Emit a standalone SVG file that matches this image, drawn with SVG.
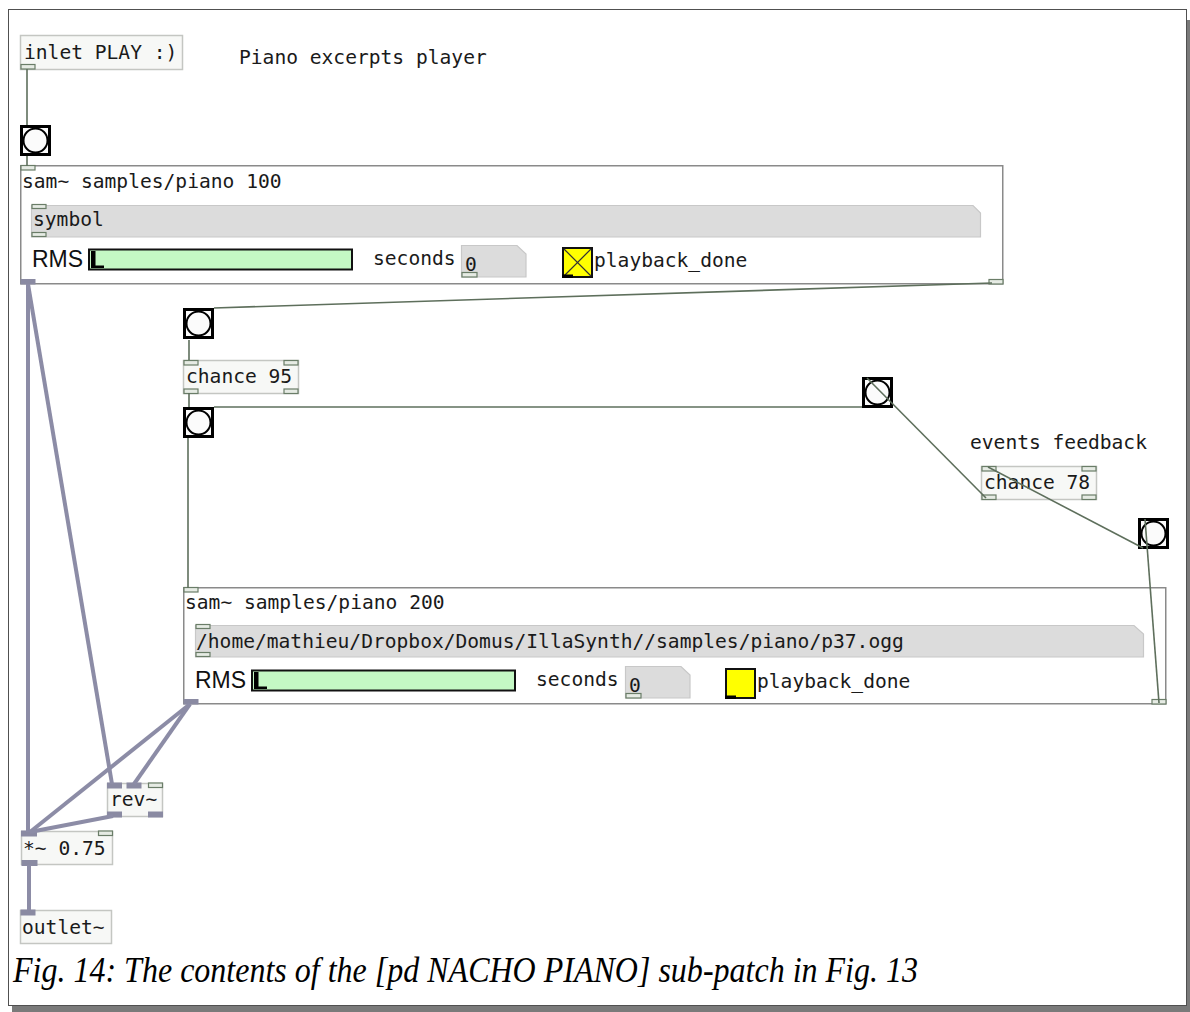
<svg xmlns="http://www.w3.org/2000/svg" xmlns:xlink="http://www.w3.org/1999/xlink" width="1190" height="1012" viewBox="0 0 1190 1012">
  <style>
    .pd { font-family: "DejaVu Sans Mono", "Liberation Mono", monospace; font-size: 19.6px; fill: #1a1a1a; }
    .lbl { font-family: "Liberation Sans", Arial, sans-serif; font-size: 23px; fill: #111; }
    .cap { font-family: "Liberation Serif", "Times New Roman", serif; font-style: italic; font-size: 35px; fill: #000; }
    .obj { fill: #f7f8f6; stroke: #c4c6c2; stroke-width: 1.5; }
    .gop { fill: #ffffff; stroke: #8a8a8a; stroke-width: 1.5; }
    .atom { fill: #dcdcdc; stroke: #c8c8c8; stroke-width: 1.2; }
    .io { fill: #e6ebe4; stroke: #6a7d68; stroke-width: 1.2; }
    .sio { fill: #8a8aa2; stroke: #8a8aa2; stroke-width: 1; }
    .ctl { stroke: #5e6f5c; stroke-width: 1.6; fill: none; }
    .sig { stroke: #8c8ca6; stroke-width: 4; fill: none; }
    .vu { fill: #c4f8c4; stroke: #111; stroke-width: 2; }
    .tgl { fill: #ffff00; stroke: #111; stroke-width: 2; }
  </style>
  <defs>
    <!-- bang button: thick square frame with a circle -->
    <g id="bng">
      <rect x="1.5" y="1.5" width="28" height="28" fill="#fbfbfb" stroke="#000" stroke-width="3"/>
      <circle cx="15.5" cy="15.5" r="12" fill="#fbfbfb" stroke="#000" stroke-width="2"/>
    </g>
  </defs>

  <!-- page frame and shadow -->
  <rect x="0" y="0" width="1190" height="1012" fill="#ffffff"/>
  <rect x="1187" y="20" width="3" height="992" fill="#7a7a7a"/>
  <rect x="12" y="1006" width="1178" height="6" fill="#7a7a7a"/>
  <rect x="8.5" y="9.5" width="1178" height="996" fill="none" stroke="#505050" stroke-width="1"/>

  <!-- comments -->
  <text class="pd" x="239" y="64">Piano excerpts player</text>
  <text class="pd" x="970" y="449">events feedback</text>

  <!-- inlet -->
  <g id="inlet-play">
    <rect class="obj" x="20.5" y="35.5" width="162" height="34"/>
    <text class="pd" x="24" y="59">inlet PLAY :)</text>
    <rect class="io" x="21" y="64.5" width="14" height="4.5"/>
  </g>

  <!-- bang 1 -->
  <g id="bang1"><use xlink:href="#bng" x="20" y="125"/></g>

  <!-- sam~ samples/piano 100 -->
  <g id="sam100">
    <rect class="gop" x="20.75" y="165.75" width="982" height="118"/>
    <rect class="io" x="21" y="165.5" width="14" height="4.5"/>
    <text class="pd" x="22" y="188">sam~ samples/piano 100</text>
    <path class="atom" d="M31.5 205.5 H973 L980.5 213 V237 H31.5 Z"/>
    <rect class="io" x="32" y="204.5" width="14" height="4"/>
    <rect class="io" x="32" y="232.5" width="14" height="4"/>
    <text class="pd" x="33" y="226">symbol</text>
    <text class="lbl" x="32" y="267">RMS</text>
    <rect class="vu" x="89" y="249.5" width="263" height="20"/>
    <rect x="91" y="251" width="4.5" height="17" fill="#000"/>
    <rect x="91" y="265.5" width="13" height="2.5" fill="#000"/>
    <text class="pd" x="373" y="265">seconds</text>
    <path class="atom" d="M461.5 245.5 H517 L526 254 V277 H461.5 Z"/>
    <rect class="io" x="462" y="272.5" width="15" height="4.5"/>
    <text class="pd" x="465" y="271">0</text>
    <rect class="tgl" x="563" y="248" width="29" height="29"/>
    <line x1="564" y1="249" x2="591" y2="276" stroke="#333" stroke-width="1.2"/>
    <line x1="591" y1="249" x2="564" y2="276" stroke="#333" stroke-width="1.2"/>
    <rect x="562" y="274.5" width="11" height="3.5" fill="#000"/>
    <text class="pd" x="594" y="267">playback_done</text>
    <rect class="sio" x="21" y="279.5" width="14" height="4.5"/>
    <rect class="io" x="989" y="279.5" width="14" height="4.5"/>
  </g>

  <!-- bang 2 -->
  <g id="bang2"><use xlink:href="#bng" x="183" y="308"/></g>

  <!-- chance 95 -->
  <g id="chance95">
    <rect class="obj" x="183.5" y="360.5" width="115" height="33"/>
    <rect class="io" x="184" y="360.5" width="14" height="4.5"/>
    <rect class="io" x="284" y="360.5" width="14" height="4.5"/>
    <rect class="io" x="184" y="389" width="14" height="4.5"/>
    <rect class="io" x="284" y="389" width="14" height="4.5"/>
    <text class="pd" x="186" y="383">chance 95</text>
  </g>

  <!-- bang 3 -->
  <g id="bang3"><use xlink:href="#bng" x="183" y="407"/></g>

  <!-- bang 4 -->
  <g id="bang4"><use xlink:href="#bng" x="862" y="377"/></g>

  <!-- chance 78 -->
  <g id="chance78">
    <rect class="obj" x="981.5" y="466.5" width="115" height="33"/>
    <rect class="io" x="982" y="466.5" width="14" height="4.5"/>
    <rect class="io" x="1082" y="466.5" width="14" height="4.5"/>
    <rect class="io" x="982" y="495" width="14" height="4.5"/>
    <rect class="io" x="1082" y="495" width="14" height="4.5"/>
    <text class="pd" x="984" y="489">chance 78</text>
  </g>

  <!-- bang 5 -->
  <g id="bang5"><use xlink:href="#bng" x="1138" y="518"/></g>

  <!-- sam~ samples/piano 200 -->
  <g id="sam200">
    <rect class="gop" x="183.75" y="587.75" width="982" height="116"/>
    <rect class="io" x="184" y="587.5" width="14" height="4.5"/>
    <text class="pd" x="185" y="609">sam~ samples/piano 200</text>
    <path class="atom" d="M195.5 625.5 H1134 L1143.5 634 V657 H195.5 Z"/>
    <rect class="io" x="196" y="624.5" width="14" height="4"/>
    <rect class="io" x="196" y="652.5" width="14" height="4"/>
    <text class="pd" x="196" y="648">/home/mathieu/Dropbox/Domus/IllaSynth//samples/piano/p37.ogg</text>
    <text class="lbl" x="195" y="688">RMS</text>
    <rect class="vu" x="252" y="670.5" width="263" height="20"/>
    <rect x="254" y="672" width="4.5" height="17" fill="#000"/>
    <rect x="254" y="686.5" width="13" height="2.5" fill="#000"/>
    <text class="pd" x="536" y="686">seconds</text>
    <path class="atom" d="M625.5 666.5 H681 L690 675 V698 H625.5 Z"/>
    <rect class="io" x="626" y="693.5" width="15" height="4.5"/>
    <text class="pd" x="629" y="692">0</text>
    <rect class="tgl" x="726" y="669" width="29" height="29"/>
    <rect x="725" y="695.5" width="11" height="3.5" fill="#000"/>
    <text class="pd" x="757" y="688">playback_done</text>
    <rect class="sio" x="184" y="699.5" width="14" height="4.5"/>
    <rect class="io" x="1152" y="699.5" width="14" height="4.5"/>
  </g>

  <!-- rev~ -->
  <g id="rev">
    <rect class="obj" x="107.5" y="783.5" width="55" height="33"/>
    <rect class="sio" x="107.5" y="783" width="14" height="5"/>
    <rect class="sio" x="127" y="783" width="14" height="5"/>
    <rect class="io" x="148.5" y="783" width="14" height="4.5"/>
    <rect class="sio" x="107.5" y="812" width="14" height="5"/>
    <rect class="sio" x="148.5" y="812" width="14" height="5"/>
    <text class="pd" x="110" y="806">rev~</text>
  </g>

  <!-- *~ 0.75 -->
  <g id="mul">
    <rect class="obj" x="21.5" y="831.5" width="91" height="33"/>
    <rect class="sio" x="21.5" y="831" width="15" height="5"/>
    <rect class="io" x="98.5" y="831" width="14" height="4.5"/>
    <rect class="sio" x="22" y="860.5" width="15" height="5"/>
    <text class="pd" x="23" y="855">*~ 0.75</text>
  </g>

  <!-- outlet~ -->
  <g id="outlet">
    <rect class="obj" x="20.5" y="910.5" width="91" height="33"/>
    <rect class="sio" x="21" y="910" width="14" height="5"/>
    <text class="pd" x="22" y="934">outlet~</text>
  </g>

  <!-- patch cords -->
  <g id="connections">
    <line class="ctl" x1="27" y1="69" x2="27" y2="125"/>
    <line class="ctl" x1="27" y1="156" x2="27" y2="166"/>
    <line class="ctl" x1="992" y1="283" x2="214" y2="308"/>
    <line class="ctl" x1="189" y1="340" x2="189" y2="360"/>
    <line class="ctl" x1="189" y1="393" x2="189" y2="407"/>
    <line class="ctl" x1="188" y1="438" x2="188" y2="588"/>
    <line class="ctl" x1="862" y1="407" x2="214" y2="407"/>
    <line class="ctl" x1="986" y1="498" x2="867" y2="378"/>
    <line class="ctl" x1="1143" y1="548" x2="988" y2="467"/>
    <line class="ctl" x1="1159" y1="703" x2="1145" y2="519"/>

    <line class="sig" x1="28" y1="284" x2="28" y2="832"/>
    <line class="sig" x1="28" y1="284" x2="112" y2="784"/>
    <line class="sig" x1="190" y1="704" x2="30" y2="832"/>
    <line class="sig" x1="190" y1="704" x2="134" y2="784"/>
    <line class="sig" x1="113" y1="816" x2="30" y2="832"/>
    <line class="sig" x1="29" y1="865" x2="29" y2="910"/>
  </g>

  <!-- caption -->
  <text class="cap" x="13" y="982" textLength="905" lengthAdjust="spacingAndGlyphs">Fig. 14: The contents of the [pd NACHO PIANO] sub-patch in Fig. 13</text>
</svg>
